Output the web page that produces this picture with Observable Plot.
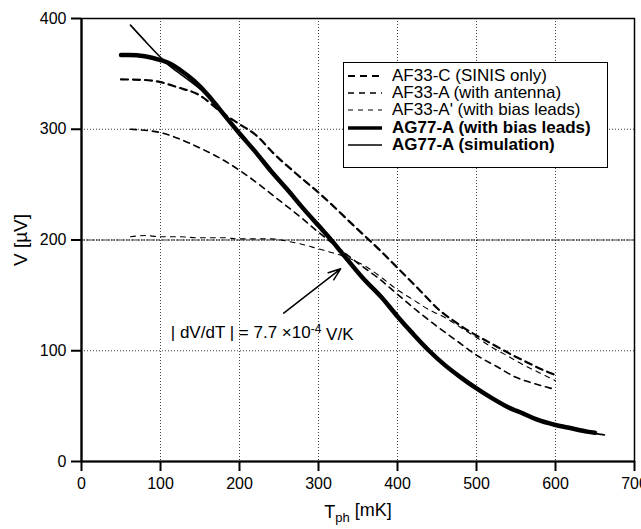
<!DOCTYPE html>
<html>
<head>
<meta charset="utf-8">
<script src="https://cdn.jsdelivr.net/npm/d3@7"></script>
<script src="https://cdn.jsdelivr.net/npm/@observablehq/plot@0.6"></script>
<style>
  html, body { margin: 0; padding: 0; background: #fff; }
  #wrap { position: relative; width: 641px; height: 529px; font-family: "Liberation Sans", Arial, sans-serif; }
  #legend { position: absolute; left: 343px; top: 62px; width: 263px; height: 100px; border: 1.6px solid #000; background: #fff; padding-top: 4px; }
  .row { height: 17.3px; display: flex; align-items: center; font-size: 17px; color: #000; white-space: nowrap; }
  .row svg { margin-left: 4px; margin-right: 10px; }
</style>
</head>
<body>
<div id="wrap"></div>
<script>
// ---- data ----
const tickX = [0, 100, 200, 300, 400, 500, 600, 700];
const tickY = [0, 100, 200, 300, 400];

const af33cT = [50, 80, 100, 121, 146, 180, 199, 222, 242, 270, 302, 349, 376, 404, 429, 454, 473, 497, 520, 543, 560, 580, 600];
const af33cV = [345, 344.5, 342.5, 338, 332, 314, 305, 294, 279, 261, 241.6, 210, 192, 172, 154, 136, 126, 115, 106, 97, 91, 84, 78];

const af33aT = [62, 100, 125, 150, 175, 200, 225, 250, 275, 300, 325, 350, 375, 400, 425, 450, 475, 500, 525, 550, 575, 600];
const af33aV = [300, 297, 291, 283, 274, 263, 250, 236, 222, 207, 193, 179, 166, 151, 136, 122, 109, 96, 86, 76, 70, 65];

const af33pT = [62, 80, 100, 120, 150, 180, 200, 220, 240, 260, 280, 300, 320, 340, 360, 380, 400, 420, 440, 460, 480, 500, 520, 540, 560, 580, 600];
const af33pV = [203, 204, 203, 203, 202, 202, 201, 201, 201, 199, 196, 192, 188, 183, 176, 166, 155, 146, 137, 130, 121, 112, 103, 95, 87, 80, 73];

const ag77T = [50, 60, 80, 100, 113, 125, 142, 160, 176, 199, 222, 239, 260, 280, 300, 315, 330, 357, 380, 400, 420, 440, 460, 480, 500, 520, 540, 560, 576, 600, 620, 640, 650];
const ag77V = [367, 367, 366, 362.5, 359, 353.5, 344, 331, 317, 297, 278, 263, 246, 229, 213, 201, 188, 165, 148, 131, 115, 100, 87, 76, 66, 57, 49, 43, 38, 33, 30, 27, 26];

const simT = [62, 80, 100, 110, 125, 142, 160, 176, 199, 222, 239, 260, 280, 300, 315, 330, 357, 380, 400, 420, 440, 460, 480, 500, 520, 540, 560, 576, 600, 620, 640, 662];
const simV = [394, 380, 365, 358, 350, 341, 330, 316.5, 296.5, 277.5, 262.5, 245.5, 228.5, 212.5, 200.5, 187.5, 164.5, 147.5, 130.5, 114.5, 99.5, 86.5, 75.5, 65.5, 56.5, 48.5, 42.5, 37.5, 32.5, 29.5, 26.5, 24];

const seriesLabels = ["AF33-C (SINIS only)", "AF33-A (with antenna)", "AF33-A' (with bias leads)", "AG77-A (with bias leads)", "AG77-A (simulation)"];

const annotText = ["| dV/dT | = 7.7 ×10-4 V/K"];
const annotT = [113];
const annotV = [116.5];
const arrowFrom = [256, 134];
const arrowTo = [328, 174];

// ---- helpers ----
const pts = (T, V) => T.map((t, i) => ({t, v: V[i]}));

const styles = [
  {dash: "7,5", w: 2.2, bold: false},
  {dash: "6,5", w: 1.6, bold: false},
  {dash: "5,5", w: 1.1, bold: false},
  {dash: null, w: 4.5, bold: true},
  {dash: null, w: 1.6, bold: true}
];

const plot = Plot.plot({
  width: 641,
  height: 529,
  marginLeft: 81,
  marginRight: 7,
  marginTop: 18,
  marginBottom: 68,
  style: {fontFamily: "Liberation Sans, Arial, sans-serif", fontSize: "16px", color: "#000", background: "#fff"},
  x: {domain: [0, 700]},
  y: {domain: [0, 400]},
  marks: [
    Plot.gridX(tickX, {stroke: "#000", strokeOpacity: 0.75, strokeDasharray: "1,2", strokeWidth: 1}),
    Plot.gridY(tickY, {stroke: "#000", strokeOpacity: 0.75, strokeDasharray: "1,2", strokeWidth: 1}),
    Plot.ruleY([200], {stroke: "#000", strokeOpacity: 0.8, strokeDasharray: "4,1", strokeWidth: 1}),
    Plot.line(pts(af33cT, af33cV), {x: "t", y: "v", curve: "monotone-x", stroke: "#000", strokeWidth: styles[0].w, strokeDasharray: styles[0].dash}),
    Plot.line(pts(af33aT, af33aV), {x: "t", y: "v", curve: "monotone-x", stroke: "#000", strokeWidth: styles[1].w, strokeDasharray: styles[1].dash}),
    Plot.line(pts(af33pT, af33pV), {x: "t", y: "v", curve: "monotone-x", stroke: "#000", strokeWidth: styles[2].w, strokeDasharray: styles[2].dash}),
    Plot.line(pts(ag77T, ag77V), {x: "t", y: "v", curve: "monotone-x", stroke: "#000", strokeWidth: styles[3].w}),
    Plot.line(pts(simT, simV), {x: "t", y: "v", curve: "monotone-x", stroke: "#000", strokeWidth: styles[4].w}),
    Plot.arrow([0], {x1: () => arrowFrom[0], y1: () => arrowFrom[1], x2: () => arrowTo[0], y2: () => arrowTo[1], stroke: "#000", strokeWidth: 1.5, headLength: 13, headAngle: 40}),
    Plot.text(annotText, {x: (d, i) => annotT[i], y: (d, i) => annotV[i], text: d => d, textAnchor: "start", fontSize: 17, fill: "#000"}),
    Plot.frame({stroke: "#000", strokeWidth: 1.5}),
    Plot.ruleX([0], {stroke: "#000", strokeWidth: 2.2}),
    Plot.ruleY([0], {stroke: "#000", strokeWidth: 2.2}),
    Plot.axisX({ticks: tickX, tickSize: 10, tickPadding: 6, fontSize: 16, tickFormat: d => String(d), strokeWidth: 2, label: "Tph [mK]", labelAnchor: "center", labelArrow: "none", labelOffset: 56}),
    Plot.axisY({ticks: tickY, tickSize: 10, tickPadding: 5, fontSize: 16, tickFormat: d => String(d), strokeWidth: 2, label: "V [µV]", labelAnchor: "center", labelArrow: "none", labelOffset: 68})
  ]
});

const wrap = document.getElementById("wrap");
wrap.appendChild(plot);

// rich text fixes: subscripts / superscripts
d3.select(plot).selectAll("text").each(function() {
  const t = this.textContent;
  const sel = d3.select(this);
  if (t.includes("dV/dT")) {
    sel.text(null);
    sel.append("tspan").text("| dV/dT | = 7.7 ×10");
    sel.append("tspan").attr("dy", "-0.45em").attr("font-size", "12px").text("-4");
    sel.append("tspan").attr("dy", "0.45em").text(" V/K");
  } else if (t.startsWith("Tph")) {
    sel.text(null).attr("font-size", "18px");
    sel.append("tspan").text("T");
    sel.append("tspan").attr("dy", "0.35em").attr("font-size", "13px").text("ph");
    sel.append("tspan").attr("dy", "-0.35em").text(" [mK]");
  } else if (t.startsWith("V [")) {
    sel.attr("font-size", "19px").text("V [µV]");
  }
});

// legend
const legend = document.createElement("div");
legend.id = "legend";
seriesLabels.forEach((lab, i) => {
  const s = styles[i];
  const row = document.createElement("div");
  row.className = "row";
  if (s.bold) row.style.fontWeight = "bold";
  row.innerHTML = `<svg width="34" height="10"><line x1="0" y1="5" x2="34" y2="5" stroke="#000" stroke-width="${Math.min(s.w, 3.5)}" ${s.dash ? `stroke-dasharray="${s.dash}"` : ""}/></svg><span>${lab}</span>`;
  legend.appendChild(row);
});
wrap.appendChild(legend);
</script>
</body>
</html>
